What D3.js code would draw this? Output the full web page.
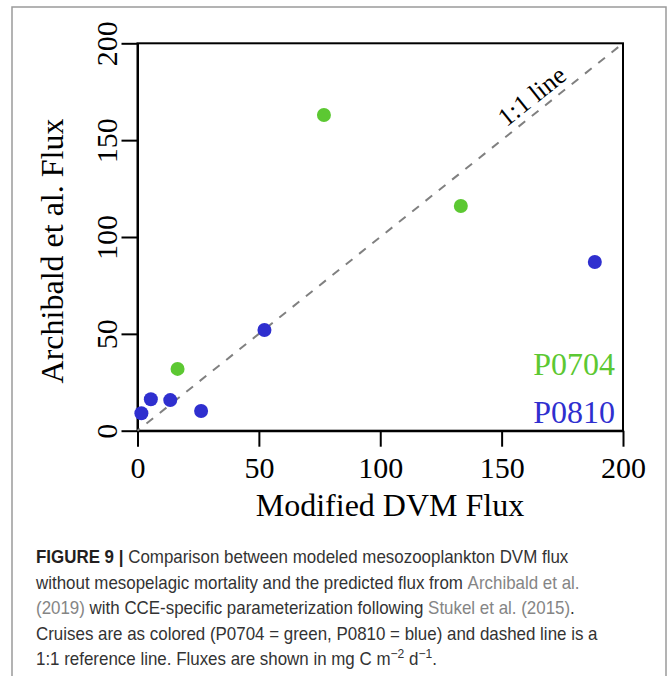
<!DOCTYPE html>
<html>
<head>
<meta charset="utf-8">
<script src="https://cdn.jsdelivr.net/npm/d3@7"></script>
<style>
  body { margin: 0; background: #fff; }
  svg { display: block; }
</style>
</head>
<body>
<svg id="chart" width="669" height="676"></svg>
<script>
// cruise P0704 (green) and P0810 (blue): x = modified DVM flux, y = Archibald et al. flux
var p0704X = [16.5, 76.8, 133.2];
var p0704Y = [31.9, 163.0, 116.0];
var p0810X = [1.6, 5.5, 13.5, 26.2, 52.3, 188.4];
var p0810Y = [9.0, 16.2, 15.8, 10.2, 52.0, 87.1];

var xTicks = [0, 50, 100, 150, 200];
var yTicks = [0, 50, 100, 150, 200];
var oneToOne = [0, 200];

var cruises = ['P0704', 'P0810'];
var cruiseColors = ['#5cc832', '#2f2fcf'];

var caption = [
    [['b', 'FIGURE 9 | '], ['t', 'Comparison between modeled mesozooplankton DVM flux']],
    [['t', 'without mesopelagic mortality and the predicted flux from '], ['l', 'Archibald et al.']],
    [['l', '(2019)'], ['t', ' with CCE-specific parameterization following '], ['l', 'Stukel et al. (2015)'], ['t', '.']],
    [['t', 'Cruises are as colored (P0704 = green, P0810 = blue) and dashed line is a']],
    [['t', '1:1 reference line. Fluxes are shown in mg C m'], ['s', '\u22122'], ['t', ' d'], ['s', '\u22121'], ['t', '.']]
];

var svg = d3.select('#chart');
var serif = '"Liberation Serif", "Times New Roman", serif';

// outer figure frame
svg.append('rect')
    .attr('x', 12).attr('y', 7)
    .attr('width', 654).attr('height', 690)
    .attr('fill', 'none')
    .attr('stroke', '#9a9a9a')
    .attr('stroke-width', 1.5);

var x = d3.scaleLinear().domain([0, 200]).range([137.5, 623]);
var y = d3.scaleLinear().domain([0, 200]).range([430.7, 43.3]);

// x axis
var gx = svg.append('g')
    .attr('transform', 'translate(0,' + y(0) + ')')
    .call(d3.axisBottom(x).tickValues(xTicks).tickSize(16).tickSizeOuter(0).tickPadding(10));
gx.selectAll('text').attr('font-size', 30);

// y axis, labels turned like R's default las=0
var gy = svg.append('g')
    .attr('transform', 'translate(' + x(0) + ',0)')
    .call(d3.axisLeft(y).tickValues(yTicks).tickSize(16).tickSizeOuter(0));
gy.selectAll('text')
    .attr('x', null).attr('dy', null)
    .attr('text-anchor', 'middle')
    .attr('transform', 'translate(-20.5,0) rotate(-90)')
    .attr('font-size', 30);

[gx, gy].forEach(function(g) {
    g.attr('font-family', serif);
    g.selectAll('text').attr('fill', '#000');
    g.selectAll('line, path').attr('stroke', '#000').attr('stroke-width', 2);
});

// plot box
svg.append('rect')
    .attr('x', x(0)).attr('y', y(200))
    .attr('width', x(200) - x(0)).attr('height', y(0) - y(200))
    .attr('fill', 'none')
    .attr('stroke', '#000')
    .attr('stroke-width', 2);

// 1:1 line
svg.append('line')
    .attr('x1', x(oneToOne[0])).attr('y1', y(oneToOne[0]))
    .attr('x2', x(oneToOne[1])).attr('y2', y(oneToOne[1]))
    .attr('stroke', '#808080')
    .attr('stroke-width', 2)
    .attr('stroke-dasharray', '8.5,8.5')
    .attr('stroke-dashoffset', 5.5);

var angle = -Math.atan2(y(0) - y(200), x(200) - x(0)) * 180 / Math.PI;
svg.append('text')
    .attr('transform', 'translate(' + x(162.3) + ',' + y(172.9) + ') rotate(' + angle + ')')
    .attr('text-anchor', 'middle')
    .attr('dy', '0.35em')
    .attr('font-family', serif)
    .attr('font-size', 26)
    .text('1:1 line');

// points
var pts = p0704X.map((d, i) => ({x: d, y: p0704Y[i], c: 0}))
    .concat(p0810X.map((d, i) => ({x: d, y: p0810Y[i], c: 1})));
svg.append('g').selectAll('circle')
    .data(pts)
    .enter().append('circle')
    .attr('cx', d => x(d.x))
    .attr('cy', d => y(d.y))
    .attr('r', 7)
    .attr('fill', d => cruiseColors[d.c]);

// cruise labels
svg.append('g').selectAll('text')
    .data(cruises)
    .enter().append('text')
    .attr('x', 615)
    .attr('y', (d, i) => 375 + i * 48.3)
    .attr('text-anchor', 'end')
    .attr('font-family', serif)
    .attr('font-size', 32)
    .attr('fill', (d, i) => cruiseColors[i])
    .text(d => d);

// axis titles
svg.append('text')
    .attr('x', 390).attr('y', 516)
    .attr('text-anchor', 'middle')
    .attr('font-family', serif)
    .attr('font-size', 32)
    .text('Modified DVM Flux');

svg.append('text')
    .attr('transform', 'translate(62.5,251) rotate(-90)')
    .attr('text-anchor', 'middle')
    .attr('font-family', serif)
    .attr('font-size', 32)
    .text('Archibald et al. Flux');

// caption, squeezed sideways so the fourth line is as wide as in the figure
var cap = svg.append('g')
    .attr('font-family', '"Liberation Sans", Arial, sans-serif')
    .attr('font-size', 17.5);
var lines = caption.map(function(line, i) {
    var t = cap.append('text');
    line.forEach(function(part) {
        var s = t.append('tspan').text(part[1]);
        if (part[0] == 'b') s.attr('font-weight', 'bold').attr('fill', '#231f20');
        else if (part[0] == 'l') s.attr('fill', '#858585');
        else if (part[0] == 's') s.attr('fill', '#333').attr('font-size', 12.5).attr('baseline-shift', '7');
        else s.attr('fill', '#333');
    });
    return t;
});
var squeeze = 562 / lines[3].node().getComputedTextLength();
lines.forEach(function(t, i) {
    t.attr('transform', 'translate(36,' + (563 + i * 25.6) + ') scale(' + squeeze + ',1)');
});
</script>
</body>
</html>
